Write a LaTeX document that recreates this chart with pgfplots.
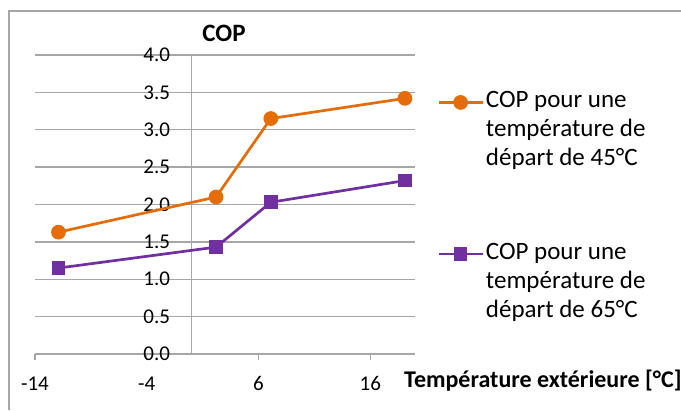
\documentclass[border=0pt]{standalone}
\usepackage{pgfplots}
\pgfplotsset{compat=1.18}
\usepackage{fontspec}
\setmainfont{Carlito}
\definecolor{coporange}{HTML}{E46C0A}
\definecolor{coppurple}{HTML}{7030A0}
\definecolor{gridgray}{HTML}{A6A6A6}

\begin{document}
\begin{tikzpicture}[x=1bp,y=1bp]
  \useasboundingbox (0,0) rectangle (681,410);
  \draw[gridgray, line width=1.5bp] (9,0) -- (9,399) -- (681,399);
  \begin{axis}[
    at={(35bp,56bp)}, anchor=south west,
    width=380bp, height=299bp, scale only axis,
    xmin=-14, xmax=20, ymin=0, ymax=4,
    axis x line*=bottom,
    axis y line*=middle,
    hide obscured y ticks=false,
    axis line style={gridgray, line width=1.3bp},
    xtick={-14,-4,6,16},
    xticklabels={-14,-4,6,16},
    ytick={0,0.5,1,1.5,2,2.5,3,3.5,4},
    yticklabels={0.0,0.5,1.0,1.5,2.0,2.5,3.0,3.5,4.0},
    ymajorgrids,
    grid style={gridgray, line width=1.3bp},
    tick align=outside,
    major tick length=6bp,
    xtick style={gridgray, line width=1.3bp},
    ytick style={draw=none},
    ticklabel style={font=\fontsize{21bp}{24bp}\selectfont, text=black},
    yticklabel style={anchor=east, xshift=-12bp},
    xticklabel style={anchor=base, yshift=-30bp},
    legend style={at={(1.058,0.885)}, anchor=north west,
      draw=none, fill=none, inner sep=0bp, row sep=72bp,
      font=\fontsize{25bp}{29bp}\selectfont,
      cells={align=left}},
    legend cell align=left,
    legend image code/.code={
      \draw[mark repeat=2, mark phase=2, yshift=27bp, #1]
        plot coordinates {(0bp,0bp) (22bp,0bp) (44bp,0bp)};},
    clip=false,
  ]
    \addplot[coporange, line width=2.7bp, mark=*, mark size=6bp,
      mark options={solid}]
      coordinates {(-11.9,1.63) (2.2,2.10) (7.1,3.15) (19.1,3.42)};
    \addlegendentry{COP pour une\\température de\\départ de 45°C}
    \addplot[coppurple, line width=2.7bp, mark=square*, mark size=5.5bp,
      mark options={solid}]
      coordinates {(-11.9,1.15) (2.2,1.43) (7.1,2.03) (19.1,2.32)};
    \addlegendentry{COP pour une\\température de\\départ de 65°C}
  \end{axis}
  \node[anchor=base, font=\fontsize{25bp}{30bp}\selectfont\bfseries]
    at (224,369) {COP};
  \node[anchor=base west, inner sep=0bp, font=\fontsize{24bp}{29bp}\selectfont\bfseries]
    at (404,23) {Température extérieure [°C]};
\end{tikzpicture}
\end{document}
